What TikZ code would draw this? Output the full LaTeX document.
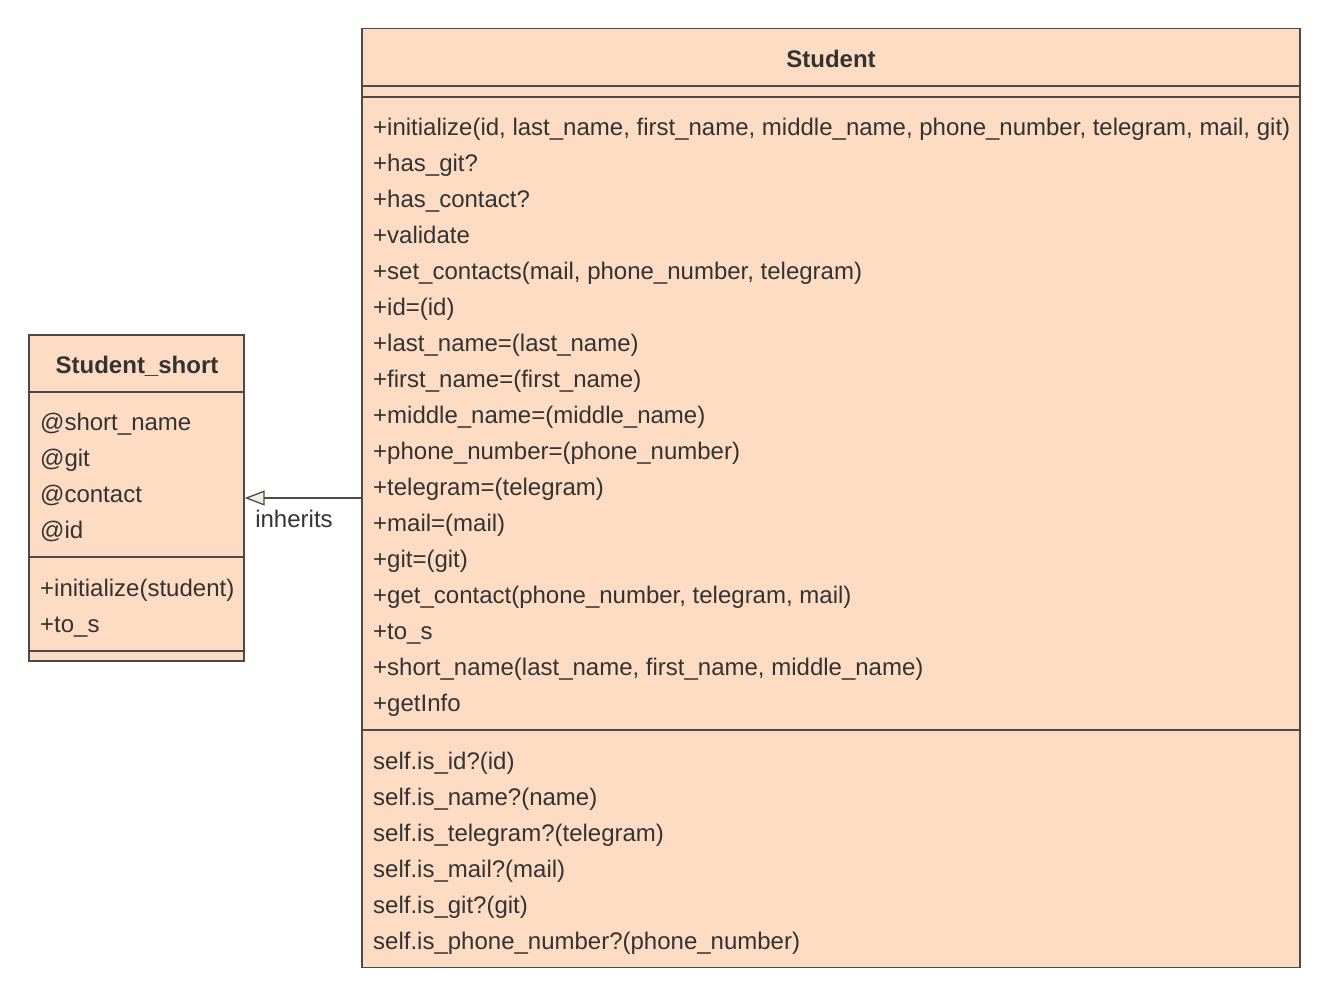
\documentclass[tikz,border=0pt]{standalone}
\usepackage{fontspec}
\setmainfont{Liberation Sans}
\usetikzlibrary{arrows.meta}
\definecolor{boxfill}{HTML}{FEDCC3}
\definecolor{boxline}{HTML}{4A4A4A}
\definecolor{txt}{HTML}{333333}
\definecolor{tipfill}{HTML}{F2EEE0}
\tikzset{
  umlbox/.style={draw=boxline, fill=boxfill, line width=1.3pt, rectangle, inner sep=0pt},
  sep/.style={draw=boxline, line width=1.3pt},
  item/.style={anchor=base west, inner sep=0pt, text=txt, font=\fontsize{24}{28}\selectfont},
  title/.style={anchor=base, inner sep=0pt, text=txt, font=\fontsize{24}{28}\selectfont\bfseries},
  conn/.style={draw=boxline, line width=1.3pt, -{Triangle[open, length=20pt, width=15pt, fill=tipfill]}}
}
\begin{document}
\begin{tikzpicture}[x=1pt,y=-1pt]
\useasboundingbox (0,0) rectangle (1329,997);
\node[umlbox, minimum width=938pt, minimum height=939pt] (student) at (831,498) {};
\node[umlbox, minimum width=215pt, minimum height=326pt] (short) at (136.5,498) {};
% separators
\draw[sep] (student.west |- 0,86) -- (student.east |- 0,86);
\draw[sep] (student.west |- 0,97) -- (student.east |- 0,97);
\draw[sep] (student.west |- 0,730) -- (student.east |- 0,730);
\draw[sep] (short.west |- 0,392) -- (short.east |- 0,392);
\draw[sep] (short.west |- 0,557) -- (short.east |- 0,557);
\draw[sep] (short.west |- 0,651) -- (short.east |- 0,651);
% titles
\node[title] (stitle) at (831,67.5) {Student};
\node[title] (shtitle) at (137,373.5) {Student\_short};
% Student methods
\foreach \t [count=\i] in {
 {+initialize(id, last\_name, first\_name, middle\_name, phone\_number, telegram, mail, git)},
 {+has\_git?}, {+has\_contact?}, {+validate},
 {+set\_contacts(mail, phone\_number, telegram)},
 {+id=(id)}, {+last\_name=(last\_name)}, {+first\_name=(first\_name)},
 {+middle\_name=(middle\_name)}, {+phone\_number=(phone\_number)},
 {+telegram=(telegram)}, {+mail=(mail)}, {+git=(git)},
 {+get\_contact(phone\_number, telegram, mail)}, {+to\_s},
 {+short\_name(last\_name, first\_name, middle\_name)}, {+getInfo}}
 \node[item] (m\i) at (373,{135.5+36*(\i-1)}) {\t};
\foreach \t [count=\i] in {
 {self.is\_id?(id)}, {self.is\_name?(name)}, {self.is\_telegram?(telegram)},
 {self.is\_mail?(mail)}, {self.is\_git?(git)}, {self.is\_phone\_number?(phone\_number)}}
 \node[item] (s\i) at (373,{769.5+36*(\i-1)}) {\t};
% Student_short
\foreach \t [count=\i] in {{@short\_name}, {@git}, {@contact}, {@id}}
 \node[item] (a\i) at (40,{430.5+36*(\i-1)}) {\t};
\foreach \t [count=\i] in {{+initialize(student)}, {+to\_s}}
 \node[item] (b\i) at (40,{596.5+36*(\i-1)}) {\t};
% connector
\draw[conn] (student.west) -- (short.east);
\node[item, anchor=base] (lbl) at (294,527.5) {inherits};
\end{tikzpicture}
\end{document}
